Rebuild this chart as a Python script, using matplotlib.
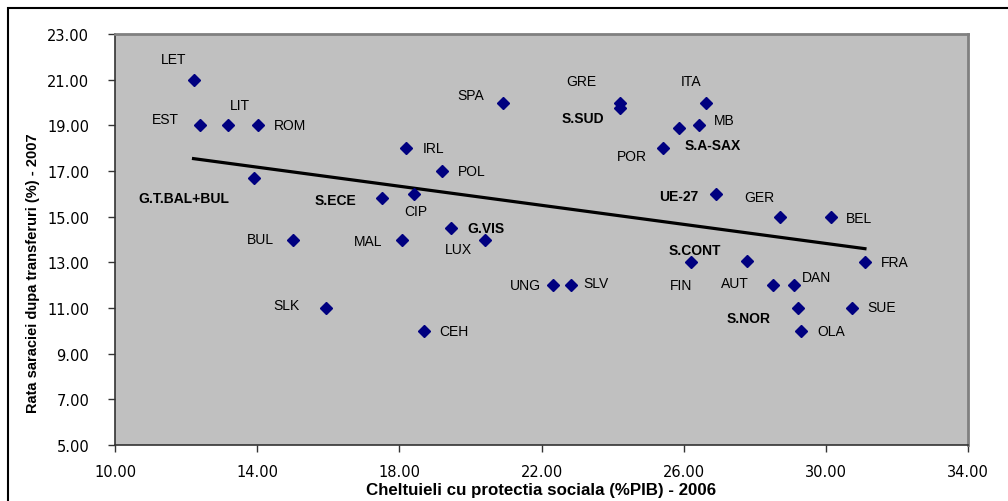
import matplotlib.pyplot as plt
import matplotlib.patches as patches
import numpy as np

plt.rcParams["font.family"] = ["Liberation Sans", "DejaVu Sans"]

# Date: cheltuieli protectie sociala (%PIB, 2006) si rata saraciei (%, 2007)
labels = ["LET", "EST", "LIT", "ROM", "G.T.BAL+BUL", "S.ECE", "CIP", "IRL", "POL",
          "SPA", "BUL", "MAL", "G.VIS", "LUX", "SLK", "CEH", "GRE", "S.SUD", "ITA",
          "MB", "S.A-SAX", "POR", "UE-27", "GER", "BEL", "FIN", "S.CONT", "AUT",
          "DAN", "FRA", "UNG", "SLV", "SUE", "S.NOR", "OLA"]
cheltuieli = [12.21, 12.40, 13.19, 14.02, 13.92, 17.50, 18.42, 18.19, 19.20,
              20.93, 15.00, 18.08, 19.45, 20.41, 15.93, 18.69, 24.21, 24.21, 26.62,
              26.43, 25.88, 25.41, 26.90, 28.71, 30.14, 26.20, 27.77, 28.51,
              29.11, 31.10, 22.32, 22.82, 30.73, 29.21, 29.30]
saracie = [21.0, 19.0, 19.0, 19.0, 16.7, 15.8, 16.0, 18.0, 17.0,
           20.0, 14.0, 14.0, 14.5, 14.0, 11.0, 10.0, 20.0, 19.75, 20.0,
           19.0, 18.9, 18.0, 16.0, 15.0, 15.0, 13.0, 13.05, 12.0,
           12.0, 13.0, 12.0, 12.0, 11.0, 11.0, 10.0]
grupuri = ["G.T.BAL+BUL", "S.ECE", "G.VIS", "S.SUD", "S.A-SAX", "UE-27", "S.CONT", "S.NOR"]

# pozitia etichetelor fata de punct (pixeli)
offsets = {
    "LET": (-20, 21), "EST": (-35, 6), "LIT": (12, 20), "ROM": (32, 0),
    "G.T.BAL+BUL": (-71, -20), "S.ECE": (-46, -2), "CIP": (2, -17),
    "IRL": (27, 0), "POL": (30, 0), "SPA": (-33, 8), "BUL": (-32, 0),
    "MAL": (-34, -1), "G.VIS": (35, 0), "LUX": (-27, -10), "SLK": (-39, 3),
    "CEH": (30, 0), "GRE": (-39, 21), "S.SUD": (-37, -10), "ITA": (-15, 21),
    "MB": (25, 5), "S.A-SAX": (33, -17), "POR": (-31, -8), "UE-27": (-37, -2),
    "GER": (-21, 20), "BEL": (28, -1), "FIN": (-10, -23), "S.CONT": (-52, 11),
    "AUT": (-38, 2), "DAN": (22, 8), "FRA": (30, 0), "UNG": (-27, 0),
    "SLV": (25, 2), "SUE": (30, 1), "S.NOR": (-49, -10), "OLA": (30, 0),
}

fig = plt.figure(figsize=(10.08, 5.02), dpi=100)
ax = fig.add_axes([115 / 1008, 56 / 502, 853 / 1008, 411 / 502])
ax.set_facecolor("#C0C0C0")

ax.plot(cheltuieli, saracie, linestyle="none", marker="D", markersize=6.5,
        color="#000080", zorder=3)

# linia de tendinta (toate punctele)
x = np.array(cheltuieli)
y = np.array(saracie)
a, b = np.polyfit(x, y, 1)
xs = np.array([x.min(), x.max()])
ax.plot(xs, a * xs + b, color="black", linewidth=2.3, zorder=2)

for lab, cx, sy in zip(labels, cheltuieli, saracie):
    dx, dy = offsets[lab]
    ax.annotate(lab, (cx, sy), xytext=(dx, dy), textcoords="offset pixels",
                ha="center", va="center", fontsize=10,
                fontweight="bold" if lab in grupuri else "normal", color="black")

ax.set_xlim(10, 34)
ax.set_ylim(5, 23)
ax.set_xticks(np.arange(10, 35, 4))
ax.set_yticks(np.arange(5, 24, 2))
ax.xaxis.set_major_formatter(plt.FormatStrFormatter("%.2f"))
ax.yaxis.set_major_formatter(plt.FormatStrFormatter("%.2f"))
ax.tick_params(direction="out", length=5, width=1, color="#333333")
ax.tick_params(axis="x", pad=9)
ax.tick_params(axis="y", pad=13.5)
for t in ax.get_xticklabels() + ax.get_yticklabels():
    t.set_fontfamily("DejaVu Sans")
    t.set_fontsize(10.5)

for s in ["left", "bottom"]:
    ax.spines[s].set_color("#333333")
    ax.spines[s].set_linewidth(1.2)
for s in ["top", "right"]:
    ax.spines[s].set_color("#808080")
    ax.spines[s].set_linewidth(2)

ax.set_xlabel("Cheltuieli cu protectia sociala (%PIB) - 2006", fontsize=12.2,
              fontweight="bold", labelpad=2)
ax.set_ylabel("Rata saraciei dupa transferuri (%) - 2007", fontsize=10.5,
              fontweight="bold")
ax.yaxis.set_label_coords(-75 / 853, (446 - 273) / 411)

# chenarul graficului
fig.patches.append(patches.Rectangle((8 / 1008, -0.05), 1.1, (502 - 9) / 502 + 0.05,
                                     transform=fig.transFigure, fill=False,
                                     edgecolor="black", linewidth=1.5))

fig.savefig("out.png", dpi=100)
